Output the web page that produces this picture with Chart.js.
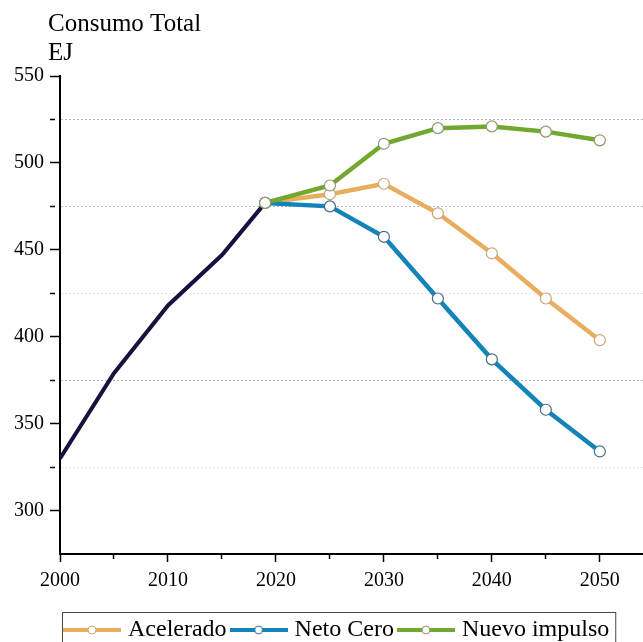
<!DOCTYPE html>
<html>
<head>
<meta charset="utf-8">
<script src="https://cdn.jsdelivr.net/npm/chart.js@4.4.1/dist/chart.umd.min.js"></script>
<style>
    html, body { margin: 0; padding: 0; background: #ffffff; }
    #wrap { width: 643px; height: 642px; }
</style>
</head>
<body>
<div id="wrap"><canvas id="chart" width="643" height="642"></canvas></div>
<script>
// datos
const histYears = [2000, 2005, 2010, 2015, 2019];
const histValues = [330, 379, 418, 447, 477];

const scenarioYears = [2019, 2025, 2030, 2035, 2040, 2045, 2050];
const acelerado = [477, 482, 488, 471, 448, 422, 398];
const netoCero = [477, 475, 457.5, 422, 387, 358, 334];
const nuevoImpulso = [477, 487, 511, 520, 521, 518, 513];

const seriesNames = ['Acelerado', 'Neto Cero', 'Nuevo impulso'];
const seriesColors = ['#e9ad5f', '#1384b8', '#72a82f'];
const markerColors = ['#c9a678', '#3f6f86', '#8c9a6c'];
const histColor = '#16123f';

const yTitle = ['Consumo Total', 'EJ'];
const serif = '"Liberation Serif", "Times New Roman", serif';

function toPoints(xs, ys) {
    return xs.map((x, i) => ({ x: x, y: ys[i] }));
}

// muestra de leyenda: linea con circulo
function legendSample(color, marker) {
    let c = document.createElement('canvas');
    c.width = 58;
    c.height = 12;
    let g = c.getContext('2d');
    g.strokeStyle = color;
    g.lineWidth = 4;
    g.beginPath();
    g.moveTo(0, 6);
    g.lineTo(58, 6);
    g.stroke();
    g.beginPath();
    g.arc(29, 6, 4, 0, Math.PI * 2);
    g.fillStyle = '#ffffff';
    g.fill();
    g.lineWidth = 1;
    g.strokeStyle = marker;
    g.stroke();
    return c;
}

let samples = seriesColors.map((c, i) => legendSample(c, markerColors[i]));

let scenarioValues = [acelerado, netoCero, nuevoImpulso];
let datasets = scenarioValues.map((vals, i) => ({
    label: seriesNames[i],
    data: toPoints(scenarioYears, vals),
    borderColor: seriesColors[i],
    backgroundColor: seriesColors[i],
    borderWidth: 4.5,
    tension: 0,
    pointRadius: 5.5,
    pointBackgroundColor: '#ffffff',
    pointBorderColor: markerColors[i],
    pointBorderWidth: 1.2,
    order: 3 - i
}));

datasets.push({
    label: 'Historico',
    data: toPoints(histYears, histValues),
    borderColor: histColor,
    backgroundColor: histColor,
    borderWidth: 4,
    tension: 0,
    pointRadius: 0,
    order: 4
});

const titlePlugin = {
    id: 'titulo',
    afterDraw(chart) {
        let ctx = chart.ctx;
        let area = chart.chartArea;
        ctx.save();
        ctx.font = '25px ' + serif;
        ctx.fillStyle = '#000000';
        ctx.textBaseline = 'alphabetic';
        ctx.fillText(yTitle[0], area.left - 12, area.top - 45);
        ctx.fillText(yTitle[1], area.left - 12, area.top - 16);
        ctx.restore();
    }
};

const legendFrame = {
    id: 'marcoLeyenda',
    afterDraw(chart) {
        let boxes = chart.legend.legendHitBoxes;
        if (!boxes || !boxes.length) return;
        let first = boxes[0];
        let last = boxes[boxes.length - 1];
        let left = first.left - 6;
        let right = last.left + last.width + 6;
        let top = first.top - 6;
        let ctx = chart.ctx;
        ctx.save();
        ctx.strokeStyle = '#4a4a4a';
        ctx.lineWidth = 1;
        ctx.strokeRect(left + 0.5, top + 0.5, right - left, 60);
        ctx.restore();
    }
};

let chart = new Chart(document.getElementById('chart'), {
    type: 'line',
    data: { datasets: datasets },
    plugins: [titlePlugin, legendFrame],
    options: {
        responsive: false,
        animation: false,
        layout: {
            autoPadding: false,
            padding: { top: 76, right: 0, left: 0, bottom: 0 }
        },
        scales: {
            x: {
                type: 'linear',
                min: 2000,
                max: 2054,
                afterFit: function (scale) { scale.height = 56; },
                ticks: {
                    stepSize: 5,
                    includeBounds: false,
                    autoSkip: false,
                    maxRotation: 0,
                    padding: 7,
                    color: '#000000',
                    font: { family: serif, size: 20 },
                    callback: v => (v % 10 === 0 ? String(v) : '')
                },
                grid: {
                    drawOnChartArea: false,
                    tickLength: 8,
                    tickWidth: 1.5,
                    tickColor: ctx => (ctx.tick && ctx.tick.value % 5 === 0 ? '#000000' : 'rgba(0,0,0,0)'),
                    tickBorderDash: ctx => (ctx.tick && ctx.tick.value % 10 !== 0 ? [4, 40] : [])
                },
                border: { display: true, color: '#000000', width: 2 }
            },
            y: {
                min: 275,
                max: 550,
                afterFit: function (scale) { scale.width = 60; },
                ticks: {
                    stepSize: 25,
                    autoSkip: false,
                    padding: 6,
                    color: '#000000',
                    font: { family: serif, size: 20 },
                    callback: v => (v % 50 === 0 ? String(v) : '')
                },
                grid: {
                    lineWidth: 1,
                    color: ctx => {
                        let v = ctx.tick ? ctx.tick.value : 0;
                        if (v % 50 === 0 || v === 275) return 'rgba(0,0,0,0)';
                        if (v === 425 || v === 325) return '#e6e6e6';
                        return '#b8b8b8';
                    },
                    tickLength: 10,
                    tickWidth: 1.5,
                    tickColor: ctx => (ctx.tick && ctx.tick.value === 275 ? 'rgba(0,0,0,0)' : '#000000'),
                    tickBorderDash: ctx => (ctx.tick && ctx.tick.value % 50 !== 0 ? [5, 40] : [])
                },
                border: {
                    display: true,
                    color: '#000000',
                    width: 2,
                    dash: [2, 2]
                }
            }
        },
        plugins: {
            title: { display: false },
            tooltip: { enabled: false },
            legend: {
                display: true,
                position: 'bottom',
                align: 'start',
                fullSize: false,
                maxHeight: 32,
                labels: {
                    usePointStyle: true,
                    pointStyleWidth: 48,
                    padding: 8,
                    color: '#000000',
                    font: { family: serif, size: 24 },
                    generateLabels: function (chart) {
                        let items = Chart.defaults.plugins.legend.labels.generateLabels(chart);
                        items = items.filter(item => item.datasetIndex < 3);
                        items.sort((a, b) => a.datasetIndex - b.datasetIndex);
                        items.forEach(item => {
                            item.pointStyle = samples[item.datasetIndex];
                        });
                        return items;
                    }
                }
            }
        }
    }
});
</script>
</body>
</html>
